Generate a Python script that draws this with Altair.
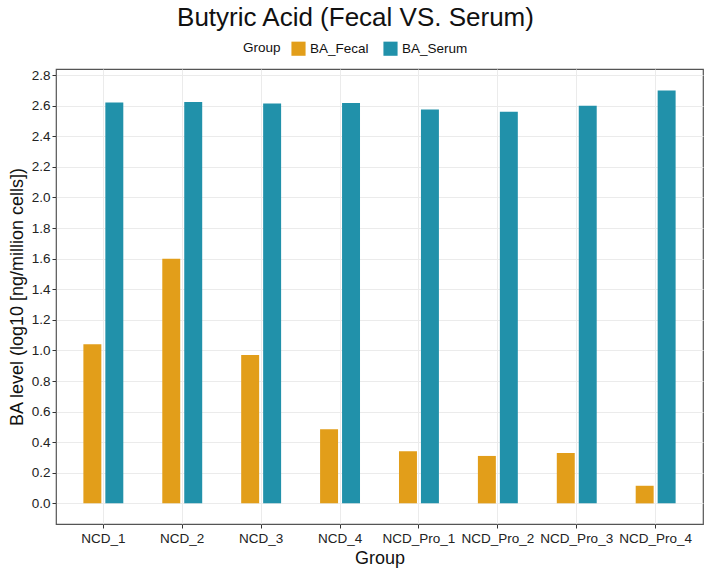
import altair as alt
import pandas as pd

groups = ["NCD_1", "NCD_2", "NCD_3", "NCD_4",
          "NCD_Pro_1", "NCD_Pro_2", "NCD_Pro_3", "NCD_Pro_4"]
series = ["BA_Fecal", "BA_Serum"]
ba_fecal = [1.04, 1.60, 0.97, 0.485, 0.34, 0.31, 0.33, 0.115]
ba_serum = [2.621, 2.625, 2.615, 2.617, 2.575, 2.56, 2.60, 2.70]
y_ticks = [0.0, 0.2, 0.4, 0.6, 0.8, 1.0, 1.2, 1.4, 1.6, 1.8, 2.0, 2.2, 2.4, 2.6, 2.8]
colors = ["#E29E1A", "#2191AA"]

rows = []
for g, f, s in zip(groups, ba_fecal, ba_serum):
    rows.append({"Sample": g, "Group": series[0], "value": f})
    rows.append({"Sample": g, "Group": series[1], "value": s})
df = pd.DataFrame(rows)

FONT = "Liberation Sans"

bars = alt.Chart(df).mark_bar().encode(
    x=alt.X(
        "Sample:N",
        sort=groups,
        title="Group",
        scale=alt.Scale(paddingInner=0.494, paddingOuter=0.347),
        axis=alt.Axis(
            labelAngle=0, grid=True, gridColor="#ebebeb", gridWidth=1,
            tickColor="#333333", tickSize=4, labelColor="#222222",
            labelFontSize=13.5, labelFont=FONT, labelPadding=3,
            titleFont=FONT, titleFontSize=18, titleFontWeight="normal",
            titleColor="#111111", titlePadding=5, domain=False,
        ),
    ),
    xOffset=alt.XOffset(
        "Group:N", sort=series,
        scale=alt.Scale(paddingInner=0.182, paddingOuter=0),
    ),
    y=alt.Y(
        "value:Q",
        title="BA level (log10 [ng/million cells])",
        scale=alt.Scale(domain=[-0.135, 2.84], nice=False, zero=False),
        axis=alt.Axis(
            values=y_ticks, format=".1f", grid=True, gridColor="#ebebeb",
            gridWidth=1, tickColor="#333333", tickSize=4,
            labelColor="#222222", labelFontSize=13.5, labelFont=FONT,
            labelPadding=2, titleFont=FONT, titleFontSize=18,
            titleFontWeight="normal", titleColor="#111111", titlePadding=5,
            domain=False,
        ),
    ),
    color=alt.Color(
        "Group:N",
        sort=series,
        scale=alt.Scale(domain=series, range=colors),
        legend=alt.Legend(
            title="Group", orient="none", direction="horizontal",
            legendX=187, legendY=-28, titleOrient="left",
            titleFont=FONT, titleFontSize=13.5, titleFontWeight="normal",
            titleColor="#111111", labelFont=FONT, labelFontSize=13.5,
            labelColor="#111111", symbolType="square", symbolSize=200,
            symbolStrokeWidth=0, columnPadding=14, titlePadding=10,
        ),
    ),
).properties(
    width=647,
    height=455,
    title=alt.TitleParams(
        "Butyric Acid (Fecal VS. Serum)", font=FONT, fontSize=26,
        fontWeight="normal", color="#111111", anchor="middle", dx=-24,
        offset=10,
    ),
)

chart = bars.configure_view(
    stroke="#555555", strokeWidth=1.2
).properties(
    autosize=alt.AutoSizeParams(type="none"),
    padding={"left": 56, "top": 69, "right": 5, "bottom": 47},
    background="white",
)

chart.save("out.html", embed_options={"renderer": "svg", "actions": False})
